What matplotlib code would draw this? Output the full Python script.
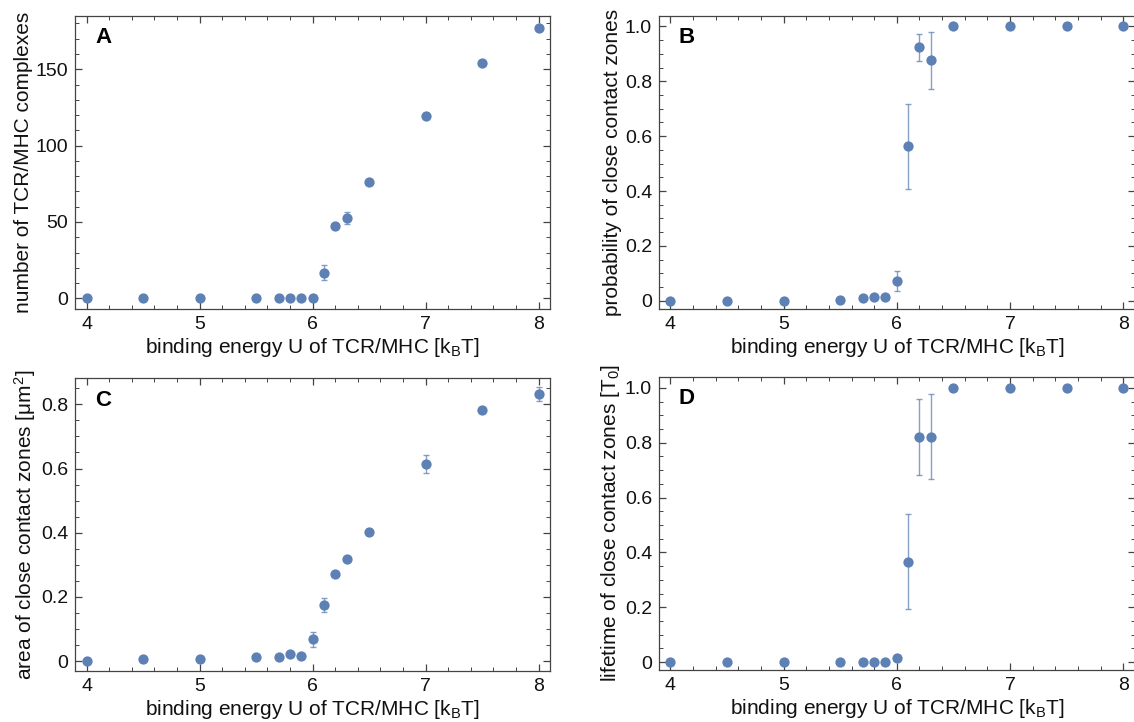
import matplotlib
matplotlib.use("Agg")
import matplotlib.pyplot as plt
from matplotlib.ticker import MultipleLocator, FuncFormatter

plt.rcParams['font.family'] = ['Liberation Sans', 'DejaVu Sans']
plt.rcParams['mathtext.fontset'] = 'custom'
plt.rcParams['mathtext.rm'] = 'Liberation Sans'
plt.rcParams['mathtext.it'] = 'Liberation Sans:italic'

# ---------------- data ----------------
U = [4.0, 4.5, 5.0, 5.5, 5.7, 5.8, 5.9, 6.0, 6.1, 6.2, 6.3, 6.5, 7.0, 7.5, 8.0]

n_complex = [0, 0, 0, 0, 0, 0, 0, 0, 16.8, 47.2, 52.6, 76.0, 119.4, 153.9, 177.3]
n_complex_err = [0, 0, 0, 0, 0, 0, 0, 0, 5.0, 1.0, 4.0, 1.0, 1.0, 1.0, 1.0]

prob = [0.0, 0.0, 0.0, 0.003, 0.010, 0.013, 0.013, 0.071, 0.563, 0.923, 0.876, 1.0, 1.0, 1.0, 1.0]
prob_err = [0, 0, 0, 0, 0, 0, 0, 0.036, 0.154, 0.049, 0.105, 0, 0, 0, 0]

area = [0.0, 0.005, 0.005, 0.012, 0.012, 0.021, 0.017, 0.068, 0.175, 0.272, 0.319, 0.403, 0.615, 0.781, 0.832]
area_err = [0, 0, 0, 0, 0, 0, 0, 0.023, 0.021, 0.004, 0.004, 0.004, 0.028, 0.005, 0.022]

life = [0, 0, 0, 0, 0, 0, 0, 0.0146, 0.366, 0.822, 0.822, 1.0, 1.0, 1.0, 1.0]
life_err = [0, 0, 0, 0, 0, 0, 0, 0, 0.173, 0.139, 0.156, 0, 0, 0, 0]

xlabel = r"binding energy U of TCR/MHC [k$_\mathrm{B}$T]"
ylabels = ["number of TCR/MHC complexes",
           "probability of close contact zones",
           r"area of close contact zones [μm$^\mathrm{2}$]",
           r"lifetime of close contact zones [T$_\mathrm{0}$]"]
letters = ["A", "B", "C", "D"]
series = [(n_complex, n_complex_err), (prob, prob_err), (area, area_err), (life, life_err)]
ylims = [(-7.0, 185.1), (-0.030, 1.039), (-0.031, 0.881), (-0.029, 1.041)]
ymajor = [50, 0.2, 0.2, 0.2]
yminor = [10, 0.05, 0.05, 0.05]

blue = (0.368417, 0.506779, 0.709798)
spine_col = '#444444'

fig = plt.figure(figsize=(11.34, 7.22), dpi=100)
positions = [
    [0.0664, 0.5720, 0.4186, 0.4063],
    [0.5811, 0.5720, 0.4195, 0.4063],
    [0.0664, 0.0706, 0.4186, 0.4054],
    [0.5811, 0.0720, 0.4195, 0.4063],
]

def fmt(v, pos):
    if abs(v) < 1e-9:
        return "0"
    if abs(v - round(v)) < 1e-9 and abs(v) >= 2:
        return "%d" % round(v)
    return "%.1f" % v

for i in range(4):
    ax = fig.add_axes(positions[i])
    y, e = series[i]
    ax.errorbar(U, y, yerr=e, fmt='none', ecolor=blue, alpha=0.75,
                elinewidth=1.0, capsize=2.3, capthick=1.0, zorder=2)
    ax.plot(U, y, 'o', color=blue, markersize=7.4, markeredgewidth=0, zorder=3)
    ax.set_xlim(3.9, 8.1)
    ax.set_ylim(*ylims[i])
    ax.xaxis.set_major_locator(MultipleLocator(1))
    ax.xaxis.set_minor_locator(MultipleLocator(0.2))
    ax.yaxis.set_major_locator(MultipleLocator(ymajor[i]))
    ax.yaxis.set_minor_locator(MultipleLocator(yminor[i]))
    ax.yaxis.set_major_formatter(FuncFormatter(fmt))
    ax.tick_params(which='both', direction='in', top=True, right=True,
                   color=spine_col, labelsize=14, labelcolor='#111111')
    ax.tick_params(which='major', length=5, width=0.9, pad=5)
    ax.tick_params(which='minor', length=2.8, width=0.7)
    for s in ax.spines.values():
        s.set_color(spine_col)
        s.set_linewidth(0.9)
    ax.set_xlabel(xlabel, fontsize=15, labelpad=2, color='#111111')
    ax.set_ylabel(ylabels[i], fontsize=15, labelpad=2, color='#111111')
    ax.text(0.042, 0.925, letters[i], transform=ax.transAxes, fontsize=16,
            fontweight='bold', va='center', ha='left', color='black')

fig.savefig("out.png", dpi=100)
